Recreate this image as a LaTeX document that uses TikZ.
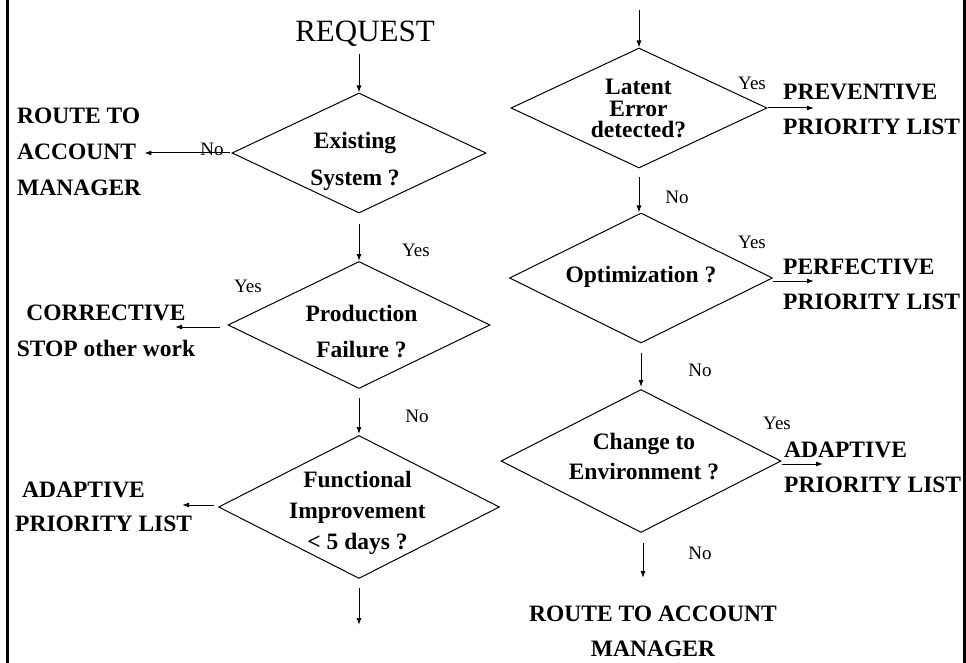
\documentclass[tikz,border=0pt]{standalone}
\usepackage{fontspec}
\setmainfont{Liberation Serif}
\usetikzlibrary{shapes.geometric,arrows.meta}

\begin{document}
\begin{tikzpicture}[x=1pt,y=-1pt,
    decision/.style={diamond, draw, line width=1pt, inner sep=0pt},
    dtext/.style={inner sep=0pt, align=center, font=\bfseries\fontsize{23.5}{#1}\selectfont},
    dtext/.default=36,
    outcome/.style={inner sep=0pt, align=left, font=\bfseries\fontsize{23.5}{#1}\selectfont},
    outcome/.default=35,
    answer/.style={inner sep=0pt, font=\fontsize{19}{22}\selectfont},
    flow/.style={line width=1pt, -{Latex[length=7pt,width=5pt]}}]
        \useasboundingbox (0,0) rectangle (966,663);
        \draw[line width=3pt] (7,0) -- (7,663);
        \draw[line width=3pt] (964,0) -- (964,663);

        % left column
        \node[inner sep=0pt, font=\fontsize{31}{36}\selectfont] (request) at (365,34) {REQUEST};
        \node[decision, minimum width=254, minimum height=120] (exist) at (359,153) {};
        \node[dtext=37] (exist-t) at (355,161.5) {Existing\\System ?};
        \node[decision, minimum width=262, minimum height=127] (prod) at (359,325) {};
        \node[dtext] (prod-t) at (361.5,331.5) {Production\\Failure ?};
        \node[decision, minimum width=281, minimum height=143] (func) at (359,507) {};
        \node[dtext=31] (func-t) at (357.5,513) {Functional\\Improvement\\< 5 days ?};

        \node[outcome=36, anchor=west] (route) at (17,152) {ROUTE TO\\ACCOUNT\\MANAGER};
        \node[outcome=36, align=center] (corr) at (106,331) {CORRECTIVE\\STOP other work};
        \node[outcome=34, anchor=west] (adapt-l) at (15,507) {\hspace*{7pt}ADAPTIVE\\PRIORITY LIST};

        \coordinate (corr-in) at (175,327);
        \coordinate (adapt-l-in) at (182,505);
        \coordinate (out-l) at (359,625);

        \draw[flow, shorten <=7pt] (request.south -| exist.north) -- (exist.north);
        \draw[flow, shorten <=2pt, shorten >=3pt] (exist.west) -- (route.east |- exist.west);
        \draw[flow, shorten <=10pt] (exist.south) -- (prod.north);
        \draw[flow, shorten <=8pt] (prod.west |- corr-in) -- (corr-in);
        \draw[flow, shorten <=9pt, shorten >=1pt] (prod.south) -- (func.north);
        \draw[flow, shorten <=4pt] (func.west |- adapt-l-in) -- (adapt-l-in);
        \draw[flow, shorten <=9pt] (func.south) -- (out-l);

        \node[answer] (no1) at (212,149) {No};
        \node[answer] (yes1) at (416,250) {Yes};
        \node[answer] (yes2) at (248,286) {Yes};
        \node[answer] (no2) at (417,416.5) {No};

        % right column
        \node[decision, minimum width=256, minimum height=120] (lat) at (639,108) {};
        \node[dtext=21.5] (lat-t) at (638.5,108.5) {Latent\\Error\\detected?};
        \node[decision, minimum width=263, minimum height=130] (opt) at (641,278) {};
        \node[dtext] (opt-t) at (641,276.5) {Optimization ?};
        \node[decision, minimum width=280, minimum height=143] (chg) at (641,461) {};
        \node[dtext=30] (chg-t) at (644,456.5) {Change to\\Environment ?};

        \node[outcome, anchor=west] (prev) at (783,109) {PREVENTIVE\\PRIORITY LIST};
        \node[outcome, anchor=west] (perf) at (783,284) {PERFECTIVE\\PRIORITY LIST};
        \node[outcome, anchor=west] (adapt-r) at (784,467) {ADAPTIVE\\PRIORITY LIST};
        \node[outcome, align=center] (route-b) at (653,631) {ROUTE TO ACCOUNT\\MANAGER};

        \coordinate (in-r) at (639,10);
        \coordinate (prev-in) at (814,108);
        \coordinate (perf-in) at (814,281);
        \coordinate (adapt-r-in) at (823,464);
        \coordinate (out-r) at (643,578);

        \draw[flow] (in-r) -- (lat.north);
        \draw[flow] (lat.east) -- (prev-in);
        \draw[flow, shorten <=9pt] (lat.south) -- (lat.south |- opt.north);
        \draw[flow] (opt.east |- perf-in) -- (perf-in);
        \draw[flow, shorten <=9pt, shorten >=2pt] (opt.south) -- (chg.north);
        \draw[flow] (chg.east |- adapt-r-in) -- (adapt-r-in);
        \draw[flow, shorten <=10pt] (chg.south -| out-r) -- (out-r);

        \node[answer] (yes3) at (752,83) {Yes};
        \node[answer] (no3) at (677,197) {No};
        \node[answer] (yes4) at (752,242) {Yes};
        \node[answer] (no4) at (700,370) {No};
        \node[answer] (yes5) at (777,423) {Yes};
        \node[answer] (no5) at (700,553) {No};
    \end{tikzpicture}
\end{document}
